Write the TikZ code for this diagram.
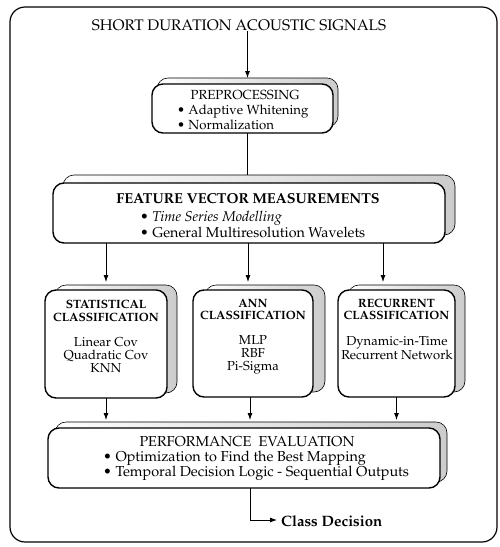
\documentclass[tikz,border=0pt]{standalone}
\usepackage[T1]{fontenc}
\usepackage{mathpazo}
\usetikzlibrary{arrows.meta}
\begin{document}
\begin{tikzpicture}[x=1pt,y=-1pt,
  front/.style={draw, line width=1.4pt, rounded corners=11pt, fill=white, inner sep=0pt, outer sep=0pt},
  backbox/.style={draw, line width=0.6pt, rounded corners=11pt, left color=white, right color=gray!40, inner sep=0pt, outer sep=0pt},
  txt/.style={inner sep=0pt, font=\fontsize{14.4}{15.5}\selectfont},
  ctxt/.style={inner sep=0pt, align=center, font=\fontsize{13}{13}\selectfont},
  btxt/.style={inner sep=0pt, align=center, font=\fontsize{12}{12.5}\selectfont\bfseries},
  arr/.style={-{Latex[length=7pt,width=5pt]}, line width=0.8pt},
  conn/.style={line width=0.8pt},
]
\useasboundingbox (0,0) rectangle (500,547);
\draw[line width=1.2pt, rounded corners=15pt] (10,7) rectangle (497,542);

% title
\node[txt, font=\fontsize{15.3}{16}\selectfont] (t) at (239,25) {SHORT DURATION ACOUSTIC SIGNALS};

% preprocessing
\node[backbox, minimum width=181pt, minimum height=49pt] (preB) at (247.5,102.5) {};
\node[front, minimum width=181pt, minimum height=49pt] (pre) at (242.5,108.5) {};
\node[txt, font=\fontsize{13.2}{15}\selectfont] (preT) at (245,95) {PREPROCESSING};
\node[txt, anchor=west, align=left, font=\fontsize{13.2}{15}\selectfont] (preL) at (177,117.5) {\textbullet\ Adaptive Whitening\\ \textbullet\ Normalization};

% feature
\node[backbox, minimum width=392pt, minimum height=60pt] (featB) at (259,205) {};
\node[front, minimum width=392pt, minimum height=60pt] (feat) at (249,213) {};
\node[txt, font=\fontsize{14.4}{15.5}\selectfont\bfseries] (featT) at (248,199) {FEATURE VECTOR MEASUREMENTS};
\node[txt, anchor=west, align=left, font=\fontsize{14.3}{16}\selectfont] (featL) at (140,224) {\textbullet\ \textit{Time Series Modelling}\\ \textbullet\ General Multiresolution Wavelets};

% statistical
\node[backbox, minimum width=122pt, minimum height=108pt] (statB) at (116,339) {};
\node[front, minimum width=122pt, minimum height=108pt] (stat) at (106,344) {};
\node[btxt] (statT) at (106,311) {STATISTICAL\\CLASSIFICATION};
\node[ctxt] (statL) at (106,355) {Linear Cov\\Quadratic Cov\\KNN};

% ann
\node[backbox, minimum width=120pt, minimum height=107pt] (annB) at (265,338.5) {};
\node[front, minimum width=120pt, minimum height=107pt] (ann) at (253,343.5) {};
\node[btxt] (annT) at (253,309.5) {ANN\\CLASSIFICATION};
\node[ctxt] (annL) at (253,355) {MLP\\RBF\\Pi-Sigma};

% recurrent
\node[backbox, minimum width=117pt, minimum height=107pt] (recB) at (406.5,338.5) {};
\node[front, minimum width=117pt, minimum height=107pt] (rec) at (396.5,343.5) {};
\node[btxt] (recT) at (396.5,309.5) {RECURRENT\\CLASSIFICATION};
\node[ctxt] (recL) at (397,348.5) {Dynamic-in-Time\\Recurrent Network};

% performance
\node[backbox, minimum width=392pt, minimum height=60pt] (perfB) at (251,452) {};
\node[front, minimum width=392pt, minimum height=60pt] (perf) at (244,458) {};
\node[txt] (perfT) at (247,442) {PERFORMANCE\enspace EVALUATION};
\node[txt, anchor=west, align=left, font=\fontsize{14.4}{15}\selectfont] (perfL) at (103,465.5) {\textbullet\ Optimization to Find the Best Mapping\\ \textbullet\ Temporal Decision Logic - Sequential Outputs};

% class decision
\node[txt, anchor=west, font=\fontsize{15}{16}\selectfont\bfseries] (cls) at (281,521) {Class Decision};

% connectors
\draw[arr] (t.south -| preB.north) -- (preB.north);
\draw[conn] (pre.south -| preB.north) -- (featB.north -| preB.north);
\draw[arr] (feat.south -| stat.north) -- ([yshift=3pt]statB.north -| stat.north);
\coordinate (a1) at (248,0);
\draw[arr] (feat.south -| a1) -- ([yshift=3pt]annB.north -| a1);
\coordinate (r1) at (383,0);
\draw[arr] (feat.south -| r1) -- ([yshift=3pt]recB.north -| r1);
\draw[arr] (stat.south) -- ([yshift=2pt]perfB.north -| stat.south);
\coordinate (a2) at (250,0);
\draw[arr] (ann.south -| a2) -- ([yshift=2pt]perfB.north -| a2);
\draw[arr] (rec.south) -- ([yshift=2pt]perfB.north -| rec.south);
\coordinate (k) at (250,520);
\draw[arr] (perf.south -| k) |- ([xshift=-4pt]cls.west |- k);
\end{tikzpicture}
\end{document}
